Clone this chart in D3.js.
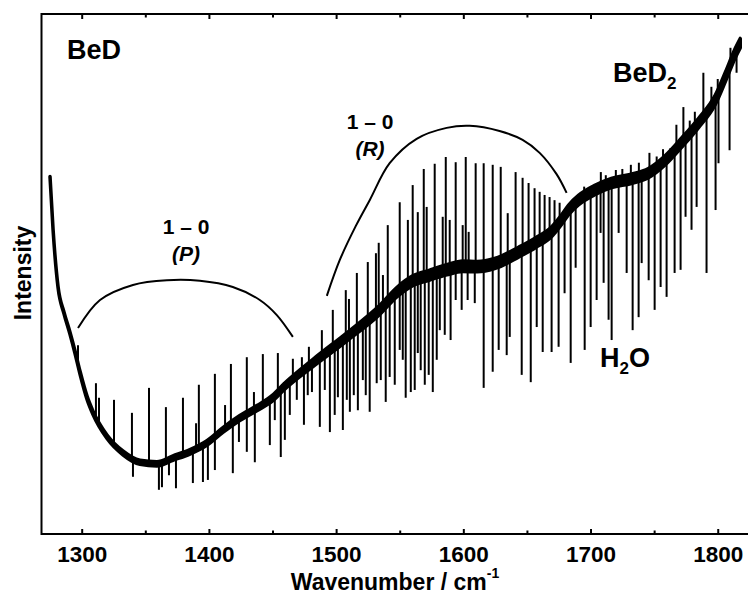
<!DOCTYPE html>
<html>
<head>
<meta charset="utf-8">
<script src="https://cdn.jsdelivr.net/npm/d3@7.9.0/dist/d3.min.js"></script>
<style>
  html, body { margin: 0; padding: 0; background: #fff; }
  svg { display: block; font-family: "Liberation Sans", Arial, sans-serif; }
</style>
</head>
<body>
<div id="chart"></div>
<script>
// smooth background of the spectrum: [wavenumber, intensity (a.u.)]
const baseline = [
  [1275.1, 68.7], [1277.5, 58.5], [1281.4, 47.5], [1286.1, 42.5], [1290.8, 38.6],
  [1294.7, 35.0], [1298.7, 31.0], [1304.2, 26.2], [1308.9, 23.3], [1319.9, 18.7],
  [1332.4, 15.6], [1345.8, 13.8], [1359.1, 13.5], [1371.7, 14.6], [1385.1, 15.8],
  [1398.4, 17.5], [1411.0, 20.0], [1424.3, 22.3], [1437.7, 24.2], [1450.3, 26.2],
  [1459.0, 28.3], [1481.8, 32.9], [1508.4, 37.9], [1534.3, 43.1], [1547.7, 46.5],
  [1560.2, 48.7], [1573.6, 49.8], [1586.9, 50.8], [1599.5, 51.5], [1611.0, 51.4],
  [1624.6, 52.0], [1643.4, 54.2], [1656.7, 56.0], [1669.3, 58.1], [1677.1, 60.4],
  [1682.6, 62.3], [1690.5, 64.2], [1703.8, 66.2], [1716.4, 67.5], [1732.1, 68.3],
  [1745.5, 69.4], [1758.8, 71.9], [1771.4, 75.2], [1784.8, 79.0], [1798.1, 83.5],
  [1806.0, 87.9], [1813.8, 92.5], [1817.7, 94.4]
];

// half-width of the noise band around the background: [wavenumber, a.u.]
const noiseBand = [
  [1275, 0.05], [1300, 0.3], [1350, 0.4], [1440, 0.5], [1480, 0.7],
  [1540, 0.9], [1600, 1.0], [1700, 0.9], [1818, 0.9]
];

// BeD emission lines (upward): [wavenumber, tip intensity]
const emissionLines = [
  [1297.1, 36.3], [1311.2, 29.0], [1313.6, 26.2], [1325.4, 25.8], [1339.5, 23.3],
  [1352.9, 28.1], [1366.2, 24.4], [1379.6, 26.2], [1389.9, 21.3], [1392.1, 28.7],
  [1404.7, 30.8], [1412.7, 24.8], [1417.3, 32.7], [1429.8, 34.0], [1435.4, 27.3],
  [1442.4, 34.6], [1454.2, 34.8], [1466.0, 33.7], [1473.1, 34.0], [1478.6, 36.0],
  [1488.8, 39.2], [1497.4, 43.1], [1507.6, 46.9], [1510.1, 45.2], [1516.3, 50.2],
  [1524.9, 52.3], [1531.3, 54.0], [1533.5, 56.0], [1536.8, 49.8], [1540.6, 59.4],
  [1550.0, 63.8], [1556.4, 60.4], [1560.2, 67.1], [1564.2, 61.9], [1568.9, 70.2],
  [1571.2, 62.9], [1577.5, 71.2], [1583.8, 61.0], [1586.2, 72.5], [1589.3, 60.4],
  [1594.0, 71.5], [1599.5, 59.4], [1601.9, 72.5], [1604.2, 58.1], [1609.7, 71.3],
  [1616.0, 71.3], [1623.1, 71.0], [1629.4, 70.6], [1634.9, 61.7], [1641.1, 69.6],
  [1646.6, 68.5], [1651.3, 67.5], [1656.0, 66.5], [1660.0, 65.8], [1663.9, 65.2],
  [1667.8, 64.8], [1671.7, 64.2], [1675.7, 63.7], [1695.0, 66.8], [1708.1, 69.6],
  [1712.0, 69.0], [1719.9, 70.0], [1725.0, 70.2], [1731.7, 71.0], [1738.0, 71.4],
  [1746.3, 73.3], [1752.0, 72.6], [1757.0, 74.0], [1762.8, 74.2], [1767.5, 78.7],
  [1773.0, 82.1], [1778.0, 79.5], [1782.0, 81.2], [1788.7, 88.7], [1795.0, 86.0],
  [1800.0, 87.5], [1810.0, 93.5], [1815.4, 93.1]
];

// H2O absorption lines (downward): [wavenumber, bottom intensity]
const absorptionLines = [
  [1340.3, 11.0], [1360.7, 8.5], [1363.1, 9.0], [1368.6, 11.3], [1374.1, 8.8],
  [1387.4, 9.8], [1395.3, 10.0], [1399.2, 10.4], [1404.7, 12.3], [1418.8, 11.7],
  [1423.6, 17.7], [1429.8, 15.8], [1436.1, 13.8], [1447.9, 17.1], [1451.8, 21.9],
  [1456.5, 14.8], [1459.7, 18.1], [1463.6, 22.9], [1469.1, 25.8], [1474.7, 21.0],
  [1477.7, 26.7], [1481.0, 27.3], [1487.2, 20.6], [1491.1, 27.7], [1495.1, 19.6],
  [1498.9, 22.9], [1501.4, 26.3], [1505.3, 20.0], [1508.4, 25.8], [1510.8, 23.5],
  [1513.9, 26.7], [1517.1, 23.8], [1521.0, 29.6], [1523.3, 26.7], [1526.4, 23.5],
  [1531.9, 29.0], [1535.1, 29.6], [1539.0, 25.4], [1542.1, 30.2], [1546.1, 28.7],
  [1550.0, 35.4], [1552.4, 33.5], [1554.7, 26.2], [1558.7, 27.3], [1561.8, 27.7],
  [1564.2, 34.8], [1566.5, 31.5], [1569.7, 28.7], [1572.8, 30.6], [1576.0, 27.3],
  [1579.1, 33.5], [1581.5, 39.2], [1585.4, 38.3], [1590.0, 37.3], [1594.0, 45.0],
  [1598.7, 43.1], [1603.4, 45.0], [1609.0, 44.4], [1616.0, 28.1], [1623.1, 31.2],
  [1627.8, 35.4], [1634.1, 34.4], [1636.5, 37.9], [1645.9, 30.6], [1653.0, 29.2],
  [1657.7, 39.8], [1662.4, 35.0], [1669.4, 35.0], [1674.9, 36.0], [1679.6, 46.3],
  [1684.4, 32.9], [1688.3, 51.2], [1695.4, 35.4], [1700.1, 39.8], [1704.8, 45.0],
  [1707.9, 57.9], [1710.3, 48.3], [1714.2, 41.2], [1716.6, 37.3], [1722.1, 57.9],
  [1728.4, 50.2], [1733.1, 39.2], [1737.8, 41.7], [1740.2, 52.1], [1745.7, 48.8],
  [1750.4, 43.1], [1755.1, 47.5], [1759.8, 45.6], [1766.1, 50.2], [1770.8, 50.8],
  [1774.7, 61.0], [1779.4, 58.5], [1783.4, 62.9], [1791.2, 50.2], [1798.3, 62.3],
  [1800.6, 71.3], [1809.3, 73.8], [1814.8, 88.7]
];

// branch brackets
const pArc = [
  [1297.1, 39.6], [1314.4, 45.0], [1340.3, 47.9], [1367.0, 48.8], [1392.9, 48.7],
  [1418.8, 47.5], [1440.0, 45.0], [1453.4, 42.1], [1466.0, 37.9]
];
const rArc = [
  [1492.7, 45.8], [1502.9, 52.7], [1515.4, 59.2], [1526.4, 64.2], [1542.1, 71.3],
  [1563.3, 76.0], [1586.9, 78.1], [1605.0, 78.5], [1628.5, 77.5], [1646.6, 75.8],
  [1660.0, 73.3], [1673.3, 69.2], [1681.2, 65.6]
];

const majorTicks = [1300, 1400, 1500, 1600, 1700, 1800];
const minorTicks = [1350, 1450, 1550, 1650, 1750];

const width = 748;
const height = 594;

const x = d3.scaleLinear()
    .domain([1268.4, 1830])
    .range([41.5, 755.9]);

const y = d3.scaleLinear()
    .domain([0, 100])
    .range([534, 14]);

const svg = d3.select("#chart").append("svg")
    .attr("width", width)
    .attr("height", height);

// background value under each line
const baseAt = d3.scaleLinear()
    .domain(baseline.map(d => d[0]))
    .range(baseline.map(d => d[1]));

const noiseAt = d3.scaleLinear()
    .domain(noiseBand.map(d => d[0]))
    .range(noiseBand.map(d => d[1]));

// spikes
svg.append("g")
    .selectAll("line")
    .data(emissionLines.concat(absorptionLines))
    .enter()
    .append("line")
    .attr("x1", d => x(d[0]))
    .attr("x2", d => x(d[0]))
    .attr("y1", d => y(baseAt(d[0])))
    .attr("y2", d => y(d[1]))
    .attr("stroke", "#000")
    .attr("stroke-width", 2);

const band = d3.area()
    .x(d => x(d[0]))
    .y0(d => y(d[1] - noiseAt(d[0])))
    .y1(d => y(d[1] + noiseAt(d[0])))
    .curve(d3.curveMonotoneX);

svg.append("path")
    .attr("d", band(baseline))
    .attr("fill", "#000")
    .attr("stroke", "#000")
    .attr("stroke-width", 3.5)
    .attr("stroke-linejoin", "round");

const arcLine = d3.line()
    .x(d => x(d[0]))
    .y(d => y(d[1]))
    .curve(d3.curveCatmullRom);

svg.selectAll(".arc")
    .data([pArc, rArc])
    .enter()
    .append("path")
    .attr("class", "arc")
    .attr("d", d => arcLine(d))
    .attr("fill", "none")
    .attr("stroke", "#000")
    .attr("stroke-width", 2);

// frame
svg.append("rect")
    .attr("x", x.range()[0])
    .attr("y", y.range()[1])
    .attr("width", x.range()[1] - x.range()[0])
    .attr("height", y.range()[0] - y.range()[1])
    .attr("fill", "none")
    .attr("stroke", "#000")
    .attr("stroke-width", 2);

function styleAxis(g) {
    g.select(".domain").remove();
    g.selectAll(".tick line").attr("stroke", "#000").attr("stroke-width", 2);
    g.selectAll(".tick text")
        .attr("fill", "#000")
        .style("font-size", "22.5px")
        .style("font-weight", "bold")
        .style("font-family", "'Liberation Sans', Arial, sans-serif");
}

svg.append("g")
    .attr("transform", `translate(0,${y.range()[0]})`)
    .call(d3.axisBottom(x).tickValues(majorTicks).tickSize(-5).tickPadding(12.5).tickFormat(d3.format("d")))
    .call(styleAxis);

svg.append("g")
    .attr("transform", `translate(0,${y.range()[0]})`)
    .call(d3.axisBottom(x).tickValues(minorTicks).tickSize(-3.5).tickFormat(""))
    .call(styleAxis);

svg.append("g")
    .attr("transform", `translate(0,${y.range()[1]})`)
    .call(d3.axisTop(x).tickValues(majorTicks).tickSize(-5).tickFormat(""))
    .call(styleAxis);

svg.append("g")
    .attr("transform", `translate(0,${y.range()[1]})`)
    .call(d3.axisTop(x).tickValues(minorTicks).tickSize(-3.5).tickFormat(""))
    .call(styleAxis);

// axis titles
const xTitle = svg.append("text")
    .attr("x", 395)
    .attr("y", 590)
    .attr("text-anchor", "middle")
    .style("font-size", "23px")
    .style("font-weight", "bold");
xTitle.append("tspan").text("Wavenumber / cm");
xTitle.append("tspan").attr("dy", -12).style("font-size", "14px").text("-1");

svg.append("text")
    .attr("transform", "translate(31,273) rotate(-90)")
    .attr("text-anchor", "middle")
    .style("font-size", "23px")
    .style("font-weight", "bold")
    .text("Intensity");

// annotations
svg.append("text")
    .attr("x", 67).attr("y", 59)
    .style("font-size", "27px").style("font-weight", "bold")
    .text("BeD");

const bed2 = svg.append("text")
    .attr("x", 613).attr("y", 82)
    .style("font-size", "27px").style("font-weight", "bold");
bed2.append("tspan").text("BeD");
bed2.append("tspan").attr("dy", 7).style("font-size", "17px").text("2");

const h2o = svg.append("text")
    .attr("x", 600).attr("y", 367)
    .style("font-size", "27px").style("font-weight", "bold");
h2o.append("tspan").text("H");
h2o.append("tspan").attr("dy", 7).style("font-size", "17px").text("2");
h2o.append("tspan").attr("dy", -7).text("O");

const branchLabels = [
  { cx: 186, by: 234, band: "1 – 0", branch: "P" },
  { cx: 370, by: 129, band: "1 – 0", branch: "R" }
];

branchLabels.forEach(b => {
    svg.append("text")
        .attr("x", b.cx).attr("y", b.by)
        .attr("text-anchor", "middle")
        .style("font-size", "21px").style("font-weight", "bold")
        .text(b.band);
    svg.append("text")
        .attr("x", b.cx).attr("y", b.by + 27)
        .attr("text-anchor", "middle")
        .style("font-size", "21px").style("font-weight", "bold").style("font-style", "italic")
        .text(`(${b.branch})`);
});
</script>
</body>
</html>
